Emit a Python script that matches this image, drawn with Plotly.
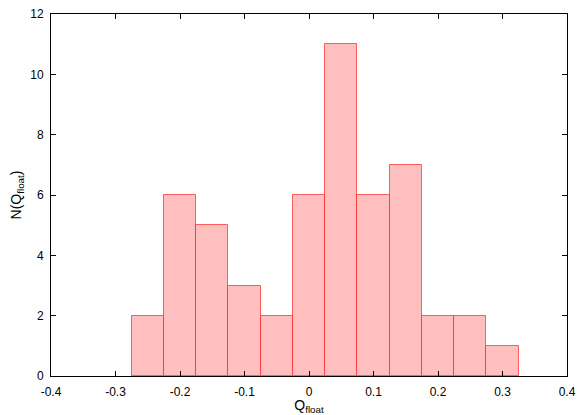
import plotly.graph_objects as go

# histogram bins (centres, width 0.05) and counts
bin_centres = [-0.25, -0.2, -0.15, -0.1, -0.05, 0.0, 0.05, 0.1, 0.15, 0.2, 0.25, 0.3]
counts = [2, 6, 5, 3, 2, 6, 11, 6, 7, 2, 2, 1]
bin_width = 0.05

x_ticks = [-0.4, -0.3, -0.2, -0.1, 0.0, 0.1, 0.2, 0.3, 0.4]
x_labels = ["-0.4", "-0.3", "-0.2", "-0.1", "0", "0.1", "0.2", "0.3", "0.4"]
y_ticks = [0, 2, 4, 6, 8, 10, 12]

fig = go.Figure(go.Bar(
    x=bin_centres, y=counts, width=bin_width,
    marker=dict(color="rgba(255,0,0,0.25)",
                line=dict(color="rgba(255,60,60,0.8)", width=1)),
))

axis_style = dict(
    showline=True, linecolor="black", linewidth=1, mirror="allticks",
    ticks="inside", ticklen=5, tickcolor="black", showgrid=False, zeroline=False,
    tickfont=dict(size=12, color="black"), automargin=False,
    ticklabeloverflow="allow",
)

# page body has an 8px margin, so the figure is sized down to fit the window
fig.update_layout(
    width=578, height=407,
    margin=dict(l=43, r=19, t=6, b=39),
    paper_bgcolor="white", plot_bgcolor="white",
    font=dict(family="Liberation Sans, Arial, sans-serif", size=12, color="black"),
    showlegend=False,
    bargap=0,
    xaxis=dict(range=[-0.4, 0.4], tickvals=x_ticks, ticktext=x_labels,
               ticklabelstandoff=5,
               title=dict(text="Q<sub>float</sub>", standoff=0), **axis_style),
    yaxis=dict(range=[0, 12], tickvals=y_ticks, ticklabelstandoff=4,
               title=dict(text="N(Q<sub>float</sub>)", standoff=25), **axis_style),
)

fig.write_html("out.html")
